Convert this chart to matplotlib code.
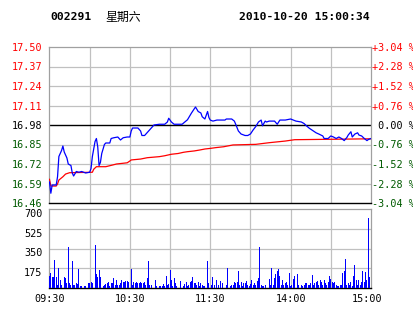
import matplotlib
matplotlib.use("Agg")
import matplotlib.pyplot as plt
import matplotlib.transforms as mtransforms
import numpy as np

# ---------------- data ----------------
prev_close = 16.98
price_ticks = [17.50, 17.37, 17.24, 17.11, 16.98, 16.85, 16.72, 16.59, 16.46]
pct_ticks = [3.04, 2.28, 1.52, 0.76, 0.00, -0.76, -1.52, -2.28, -3.04]
vol_ticks = [175, 350, 525, 700]
time_labels = ["09:30", "10:30", "11:30", "14:00", "15:00"]
time_pos = [0, 60, 120, 180, 240]

price_min = [0, 1, 2, 5, 6, 7, 9, 10, 11, 13, 14, 16, 17, 18, 20, 22, 24, 27, 30, 31,
             32, 34, 35, 36, 37, 38, 39, 41, 42, 45, 46, 48, 51, 53, 55, 58, 60, 61, 62, 66,
             68, 69, 71, 73, 76, 78, 82, 86, 88, 89, 91, 93, 99, 101, 103, 106, 108, 109, 111, 113,
             114, 116, 118, 119, 120, 122, 125, 131, 132, 136, 138, 139, 141, 143, 146, 148, 150, 152, 154, 156,
             158, 159, 161, 162, 164, 168, 170, 172, 176, 180, 182, 184, 188, 190, 192, 194, 197, 199, 201, 204,
             205, 208, 210, 212, 214, 216, 218, 220, 222, 223, 225, 226, 228, 230, 231, 233, 235, 237, 238, 240]
price = [16.60, 16.525, 16.58, 16.58, 16.635, 16.77, 16.81, 16.84, 16.80, 16.76, 16.72, 16.71, 16.66, 16.64, 16.67, 16.665, 16.67, 16.66, 16.665, 16.69,
         16.77, 16.87, 16.89, 16.835, 16.71, 16.73, 16.79, 16.85, 16.86, 16.86, 16.89, 16.895, 16.90, 16.88, 16.895, 16.90, 16.90, 16.94, 16.96, 16.96,
         16.94, 16.91, 16.91, 16.93, 16.96, 16.98, 16.985, 16.985, 17.00, 17.025, 17.00, 16.985, 16.985, 17.00, 17.015, 17.06, 17.087, 17.10, 17.07, 17.06,
         17.035, 17.02, 17.07, 17.03, 17.013, 17.006, 17.013, 17.013, 17.02, 17.02, 17.006, 16.985, 16.94, 16.92, 16.91, 16.91, 16.92, 16.947, 16.97, 17.00,
         17.013, 16.975, 17.006, 17.00, 17.006, 17.006, 16.985, 17.013, 17.013, 17.02, 17.013, 17.006, 17.00, 16.99, 16.973, 16.958, 16.94, 16.928, 16.92, 16.907,
         16.89, 16.89, 16.907, 16.90, 16.89, 16.90, 16.89, 16.876, 16.897, 16.913, 16.935, 16.90, 16.92, 16.928, 16.913, 16.907, 16.89, 16.876, 16.883, 16.89]

avg_min = [0, 1, 5, 6, 7, 10, 12, 15, 32, 33, 35, 42, 47, 50, 54, 58, 60, 61, 68, 73,
           82, 86, 91, 96, 100, 103, 108, 112, 116, 120, 124, 130, 137, 154, 164, 176, 183, 240]
avg_price = [16.618, 16.573, 16.573, 16.587, 16.613, 16.635, 16.653, 16.662, 16.665, 16.685, 16.702, 16.702, 16.713, 16.72, 16.724, 16.728, 16.74, 16.747, 16.753, 16.762,
             16.769, 16.775, 16.785, 16.79, 16.798, 16.802, 16.807, 16.813, 16.82, 16.824, 16.829, 16.835, 16.847, 16.851, 16.862, 16.873, 16.882, 16.888]

vol_min = [0, 1, 2, 3, 4, 5, 6, 7, 8, 9, 11, 12, 13, 14, 15, 16, 17, 18, 19, 20,
           21, 22, 23, 24, 25, 26, 27, 28, 29, 30, 31, 32, 34, 35, 36, 37, 38, 40, 41, 42,
           43, 44, 45, 46, 47, 48, 49, 50, 51, 52, 53, 54, 55, 56, 57, 58, 59, 61, 62, 63,
           64, 65, 66, 67, 68, 69, 70, 71, 72, 73, 74, 75, 76, 78, 79, 80, 81, 82, 83, 84,
           85, 86, 87, 88, 89, 90, 91, 92, 93, 94, 95, 98, 100, 101, 102, 103, 104, 105, 106, 107,
           108, 109, 110, 111, 112, 113, 114, 115, 116, 118, 119, 121, 122, 123, 125, 126, 128, 129, 131, 132,
           133, 134, 135, 136, 137, 138, 139, 140, 141, 142, 143, 144, 145, 146, 147, 148, 149, 150, 151, 152,
           153, 154, 155, 156, 157, 158, 159, 160, 161, 164, 165, 166, 167, 168, 169, 170, 171, 172, 173, 174,
           175, 176, 177, 178, 179, 180, 181, 182, 183, 184, 185, 186, 187, 188, 189, 190, 191, 192, 193, 194,
           195, 196, 197, 198, 199, 200, 201, 202, 203, 204, 205, 206, 207, 208, 209, 210, 211, 212, 213, 214,
           215, 216, 217, 218, 219, 220, 221, 222, 223, 224, 225, 226, 227, 228, 229, 230, 231, 232, 233, 234,
           235, 236, 237, 238, 239, 240]
vol = [106, 136, 100, 100, 248, 100, 27, 174, 71, 27, 94, 86, 41, 360, 41, 27, 239, 27, 27, 41,
       35, 168, 18, 18, 56, 18, 18, 136, 41, 47, 56, 41, 381, 124, 94, 160, 100, 18, 27, 35,
       47, 56, 18, 41, 47, 86, 27, 71, 27, 27, 47, 71, 56, 56, 62, 62, 56, 168, 27, 56,
       47, 56, 41, 47, 56, 41, 41, 56, 27, 86, 239, 27, 27, 41, 71, 18, 18, 18, 18, 18,
       35, 18, 106, 27, 35, 160, 71, 18, 92, 41, 18, 62, 18, 35, 56, 18, 27, 56, 62, 100,
       41, 47, 27, 56, 18, 41, 27, 18, 18, 239, 41, 27, 100, 27, 71, 27, 62, 41, 195, 27,
       177, 56, 18, 27, 27, 56, 47, 56, 150, 27, 56, 18, 47, 41, 62, 27, 18, 35, 71, 27,
       41, 27, 62, 92, 366, 27, 18, 18, 27, 80, 27, 180, 27, 92, 124, 150, 165, 106, 27, 71,
       27, 41, 56, 27, 136, 18, 27, 77, 106, 121, 124, 27, 124, 27, 18, 27, 41, 41, 27, 27,
       47, 115, 27, 47, 56, 65, 27, 71, 56, 27, 71, 47, 27, 56, 106, 77, 56, 41, 56, 27,
       18, 18, 27, 27, 136, 150, 254, 27, 41, 27, 56, 18, 106, 204, 71, 27, 71, 27, 56, 150,
       56, 145, 71, 623, 94, 115]

# ---------------- style ----------------
RED = "#ff0000"
GREEN = "#005a00"
BLUE = "#0000ff"
GRID = "#c0c0c0"
SPINE = "#a0a0a0"
MONO = "DejaVu Sans Mono"

W, H = 414, 314
fig = plt.figure(figsize=(W / 100, H / 100), dpi=100)
fig.patch.set_facecolor("white")

L, R = 49.5, 371.0
ax1 = fig.add_axes([L / W, (H - 203) / H, (R - L) / W, (203 - 47) / H])
ax2 = fig.add_axes([L / W, (H - 288) / H, (R - L) / W, (288 - 209) / H])

# ---- price panel ----
ax1.set_xlim(0, 240)
ax1.set_ylim(price_ticks[-1], price_ticks[0])
for p in price_ticks[1:-1]:
    if abs(p - prev_close) < 1e-9:
        ax1.axhline(p, color="black", lw=1.0, zorder=2)
    else:
        ax1.axhline(p, color=GRID, lw=0.9, zorder=1)
for t in range(30, 240, 30):
    ax1.axvline(t, color=GRID, lw=0.9, zorder=1)
ax1.plot(avg_min, avg_price, color=RED, lw=0.9, zorder=3)
ax1.plot(price_min, price, color=BLUE, lw=0.9, zorder=4)

ax1.set_xticks([])
ax1.set_yticks(price_ticks)
ax1.set_yticklabels([f"{p:.2f}" for p in price_ticks], family=MONO, fontsize=7.3)
for p, lab in zip(price_ticks, ax1.get_yticklabels()):
    lab.set_color(RED if p > prev_close + 1e-9 else ("black" if abs(p - prev_close) < 1e-9 else GREEN))
ax1.tick_params(axis="y", length=0, pad=5)
for s in ["top", "left", "right"]:
    ax1.spines[s].set_color(SPINE)
    ax1.spines[s].set_linewidth(0.9)
ax1.spines["bottom"].set_color("black")
ax1.spines["bottom"].set_linewidth(1.0)

axr = ax1.twinx()
axr.set_ylim(pct_ticks[-1], pct_ticks[0])
axr.set_yticks(pct_ticks)
def pct_fmt(v):
    if abs(v) < 1e-9:
        return " 0.00 %"
    return f"{v:+.2f} %"
axr.set_yticklabels([pct_fmt(v) for v in pct_ticks], family=MONO, fontsize=7.3)
for v, lab in zip(pct_ticks, axr.get_yticklabels()):
    lab.set_color(RED if v > 1e-9 else ("black" if abs(v) < 1e-9 else GREEN))
axr.tick_params(axis="y", length=0, pad=0.5)
for s in axr.spines.values():
    s.set_visible(False)

# ---- volume panel ----
ax2.set_xlim(0, 240)
ax2.set_ylim(0, 700)
for v in vol_ticks[:-1]:
    ax2.axhline(v, color=GRID, lw=0.9, zorder=1)
for t in range(30, 240, 30):
    ax2.axvline(t, color=GRID, lw=0.9, zorder=1)
ax2.bar(vol_min, vol, width=0.72, color=BLUE, linewidth=0, zorder=3)
ax2.set_yticks(vol_ticks)
ax2.set_yticklabels([str(v) for v in vol_ticks], family=MONO, fontsize=7.3)
for lab in ax2.get_yticklabels():
    lab.set_va("top")
ax2.tick_params(axis="y", length=0, pad=5)
ax2.set_xticks(time_pos)
ax2.set_xticklabels(time_labels, family=MONO, fontsize=7.3)
ax2.tick_params(axis="x", length=0, pad=4)
last = ax2.get_xticklabels()[-1]
last.set_transform(last.get_transform() + mtransforms.ScaledTranslation(-4 / 100, 0, fig.dpi_scale_trans))
for s in ["top", "left", "right"]:
    ax2.spines[s].set_color(SPINE)
    ax2.spines[s].set_linewidth(0.9)
ax2.spines["bottom"].set_color("black")
ax2.spines["bottom"].set_linewidth(1.0)

# ---- header ----
fig.text(50 / W, 1 - 17 / H, "002291", family=MONO, weight="bold", fontsize=8.2, va="center", ha="left")
fig.text(105 / W, 1 - 17 / H, "星期六", family=["Noto Sans CJK SC", "DejaVu Sans"], fontsize=8.6, va="center", ha="left")
fig.text(370 / W, 1 - 17 / H, "2010-10-20 15:00:34", family=MONO, weight="bold", fontsize=8.2, va="center", ha="right")

fig.savefig("out.png", dpi=100)
